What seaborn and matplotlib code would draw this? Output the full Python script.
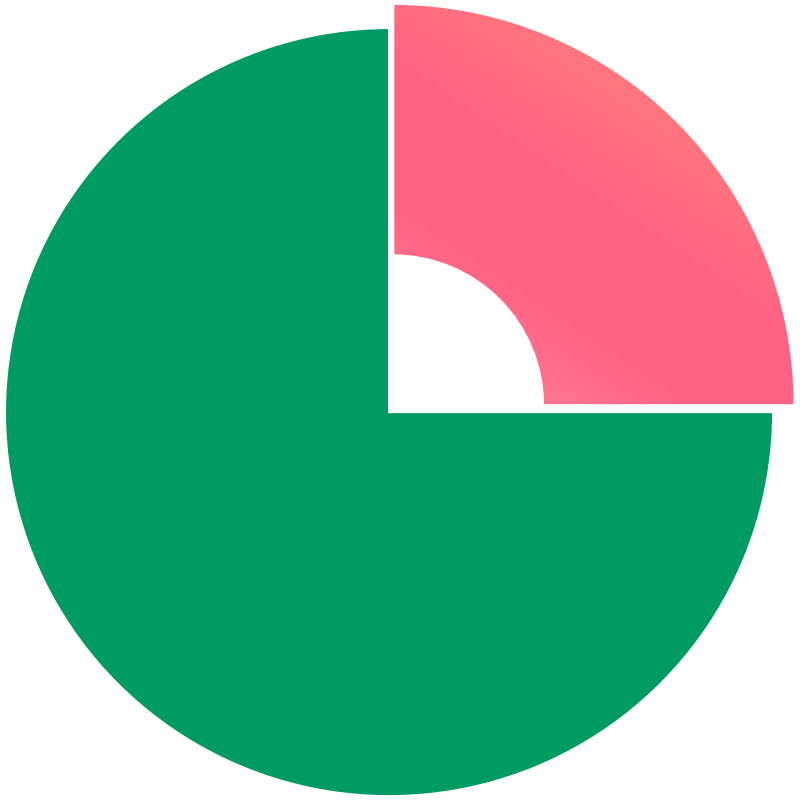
import numpy as np
import matplotlib
matplotlib.use('Agg')
import matplotlib.pyplot as plt
from matplotlib.colors import LinearSegmentedColormap
import seaborn as sns

sns.set_style('white')

# slice data
labels = ['green', 'pink']
values = [75, 25]


def main():
    fig = plt.figure(figsize=(8, 8), dpi=100)
    ax = fig.add_axes([0, 0, 1, 1])
    ax.set_aspect('equal')

    # big green slice
    w1, _ = ax.pie(values, colors=['#009a63', 'none'], startangle=90,
                   radius=1.0, center=(0, 0),
                   wedgeprops=dict(edgecolor='white', linewidth=1.5))
    w1[1].set_edgecolor('none')

    # pink slice, pulled out, bigger and with a hole
    w2, _ = ax.pie(values, colors=['none', '#ff6384'], startangle=90,
                   radius=1.045, center=(0.011, 0.018),
                   wedgeprops=dict(width=0.655, edgecolor='white',
                                   linewidth=1.5))
    w2[0].set_edgecolor('none')

    # gradient on the pink slice (light pink -> pink -> coral)
    cmap = LinearSegmentedColormap.from_list(
        'pinkgrad', [(0.0, '#ff88a2'), (0.3, '#ff6384'), (0.5, '#ff6384'),
                     (0.78, '#ff7d7d'), (1.0, '#ff8080')])
    gx, gy = np.meshgrid(np.linspace(0, 1, 200), np.linspace(0, 1, 200))
    grad = 0.4 * gx + 0.6 * gy
    im = ax.imshow(grad, cmap=cmap, origin='lower', vmin=0, vmax=1,
                   extent=(0.011, 1.06, 0.018, 1.07), zorder=3)
    im.set_clip_path(w2[1])
    w2[1].set_zorder(4)
    w2[1].set_facecolor('none')

    ax.set_xlim(-1.013, 1.070)
    ax.set_ylim(-1.010, 1.073)
    ax.axis('off')
    fig.savefig('out.png', dpi=100)
    plt.close(fig)


if __name__ == '__main__':
    main()
